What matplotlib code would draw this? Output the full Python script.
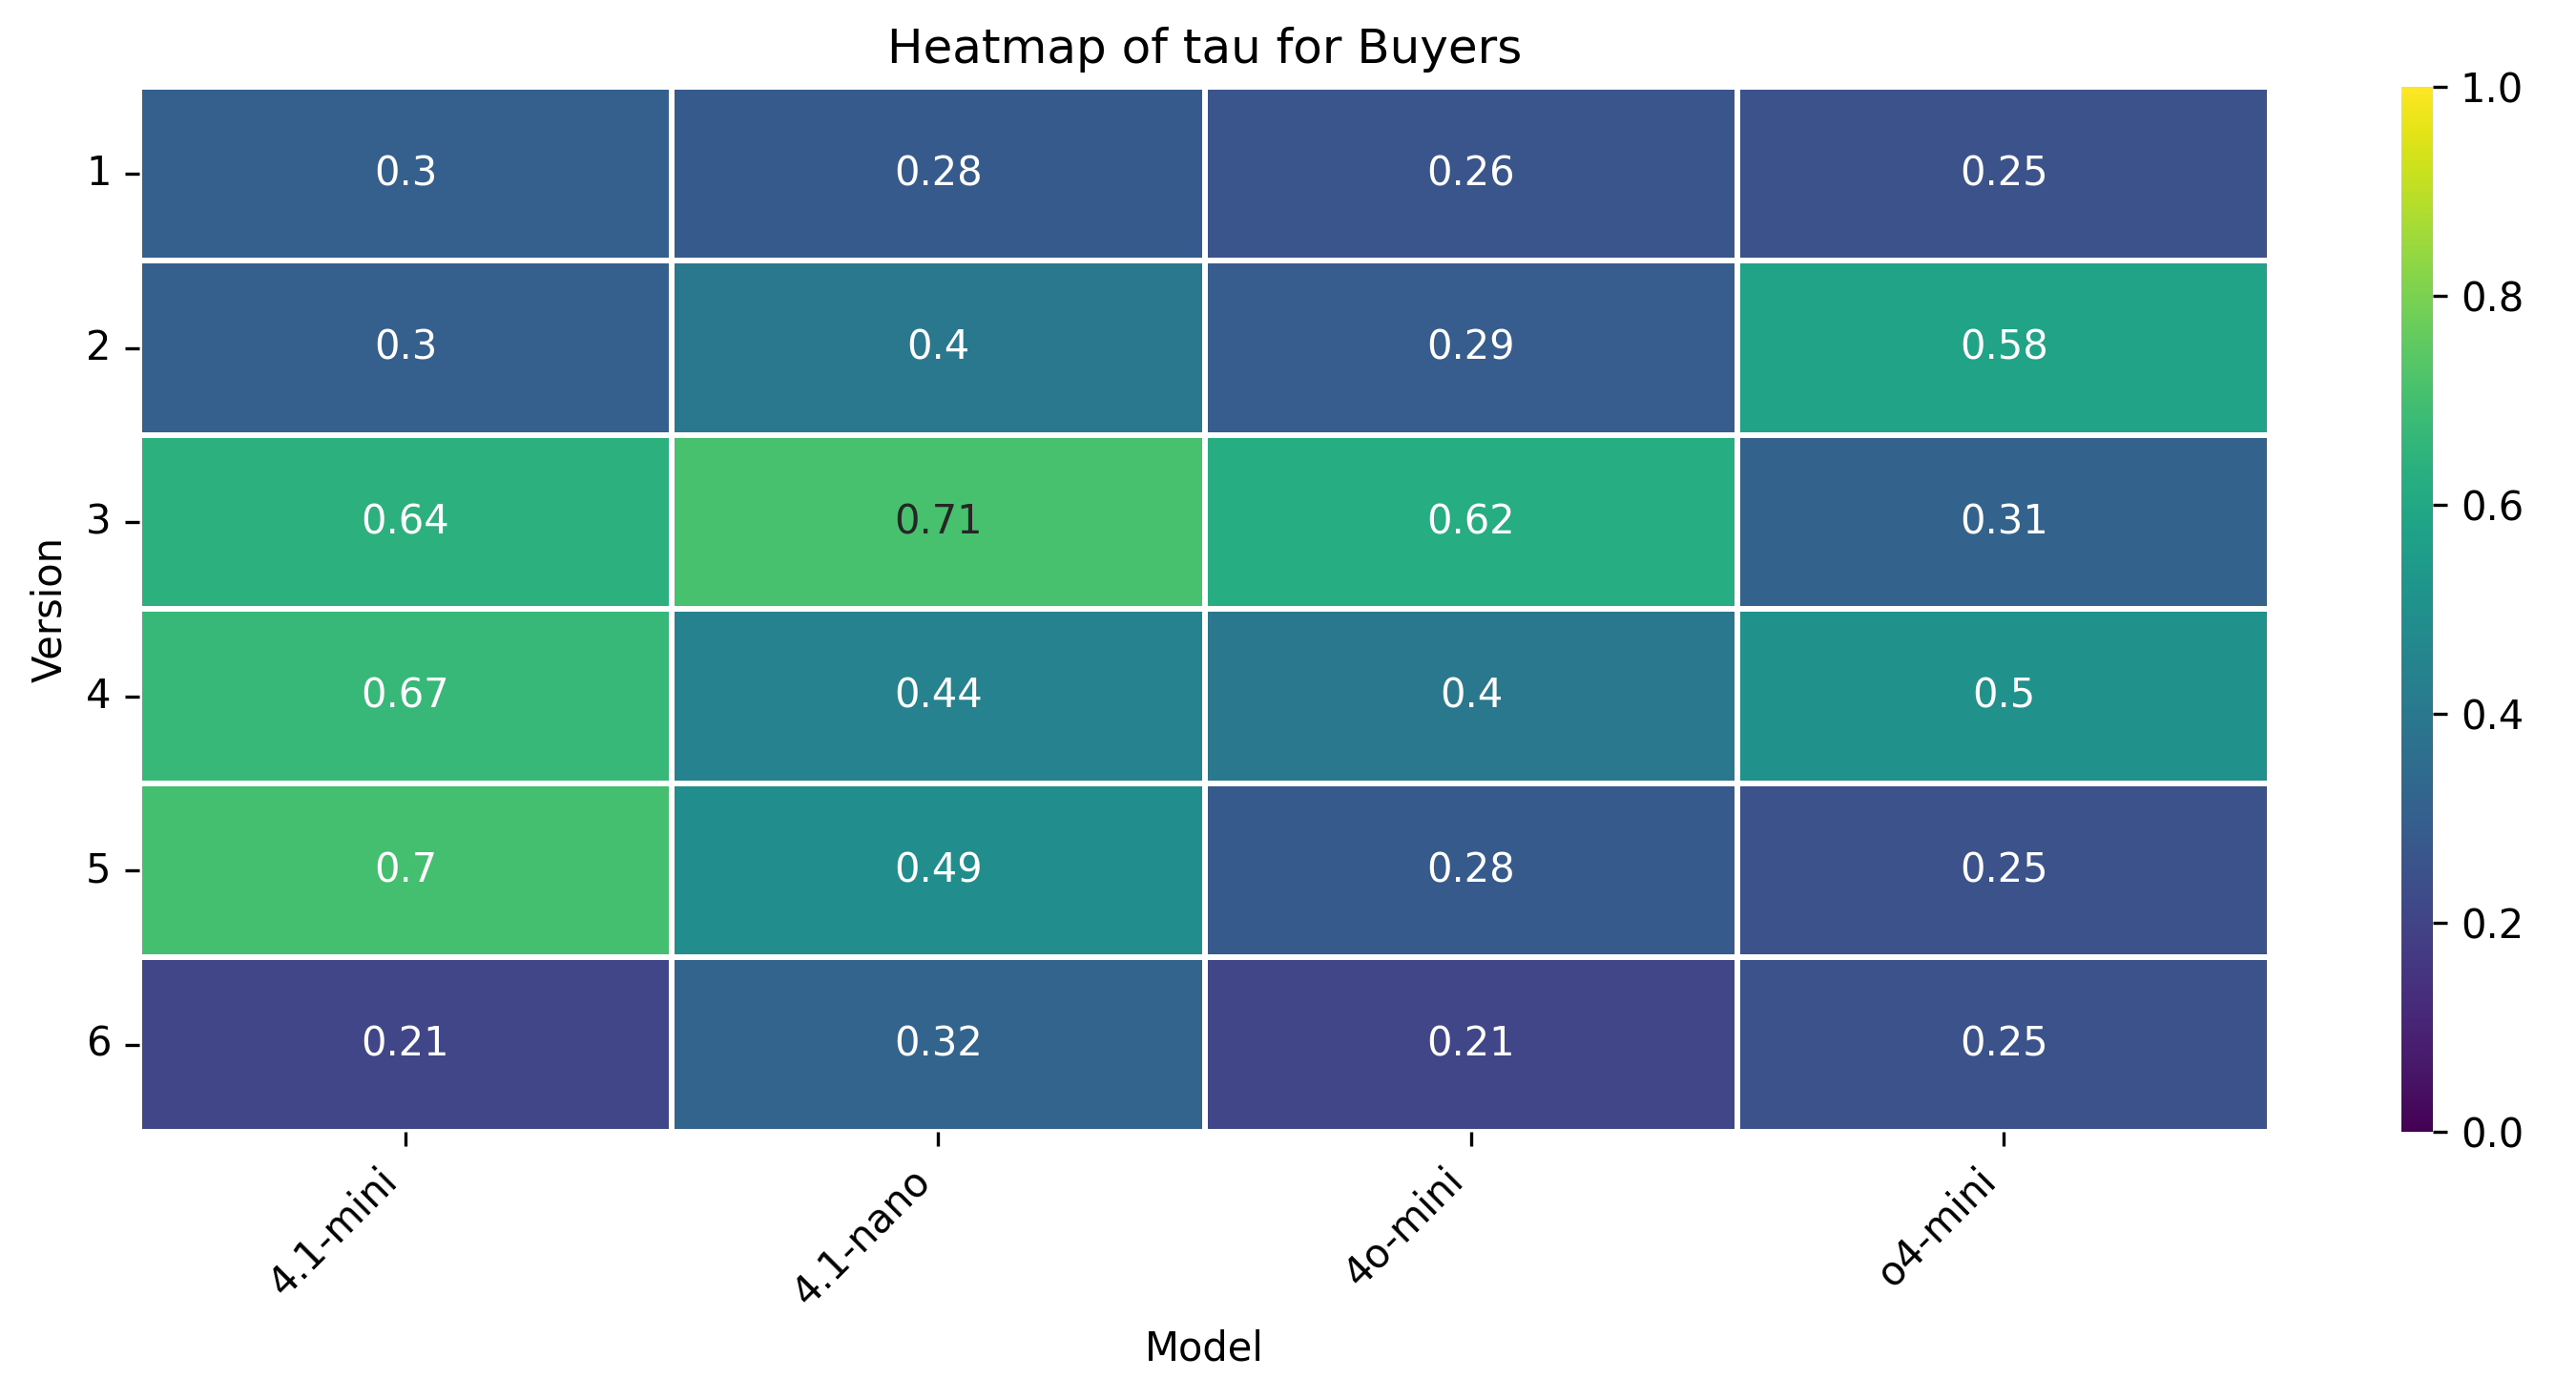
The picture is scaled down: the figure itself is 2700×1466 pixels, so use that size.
import matplotlib
matplotlib.use("Agg")
import matplotlib.pyplot as plt
import pandas as pd
import seaborn as sns

models = ["4.1-mini", "4.1-nano", "4o-mini", "o4-mini"]
versions = [1, 2, 3, 4, 5, 6]
tau_41_mini = [0.30, 0.30, 0.64, 0.67, 0.70, 0.21]
tau_41_nano = [0.28, 0.40, 0.71, 0.44, 0.49, 0.32]
tau_4o_mini = [0.26, 0.29, 0.62, 0.40, 0.28, 0.21]
tau_o4_mini = [0.25, 0.58, 0.31, 0.50, 0.25, 0.25]

df = pd.DataFrame({
    "4.1-mini": tau_41_mini,
    "4.1-nano": tau_41_nano,
    "4o-mini": tau_4o_mini,
    "o4-mini": tau_o4_mini,
}, index=versions)
df.index.name = "Version"
df.columns.name = "Model"

fig = plt.figure(figsize=(9.003, 4.887), dpi=300)
ax = fig.add_axes([0.054, 0.191, 0.827, 0.747])
cax = fig.add_axes([0.932, 0.191, 0.012, 0.747])
sns.heatmap(df, ax=ax, cbar_ax=cax, cmap="viridis", vmin=0, vmax=1,
            annot=True, linewidths=1, linecolor="white")
# light cells get dark text, as seaborn's luminance rule gives
for t in ax.texts:
    if float(t.get_text()) > 0.7:
        t.set_color("#262626")
ax.set_title("Heatmap of tau for Buyers")
ax.set_xlabel("Model")
ax.set_ylabel("Version")
ax.set_xticklabels(models, rotation=45, ha="right")
ax.set_yticklabels(versions, rotation=0)
fig.savefig("out.png", dpi=300)
